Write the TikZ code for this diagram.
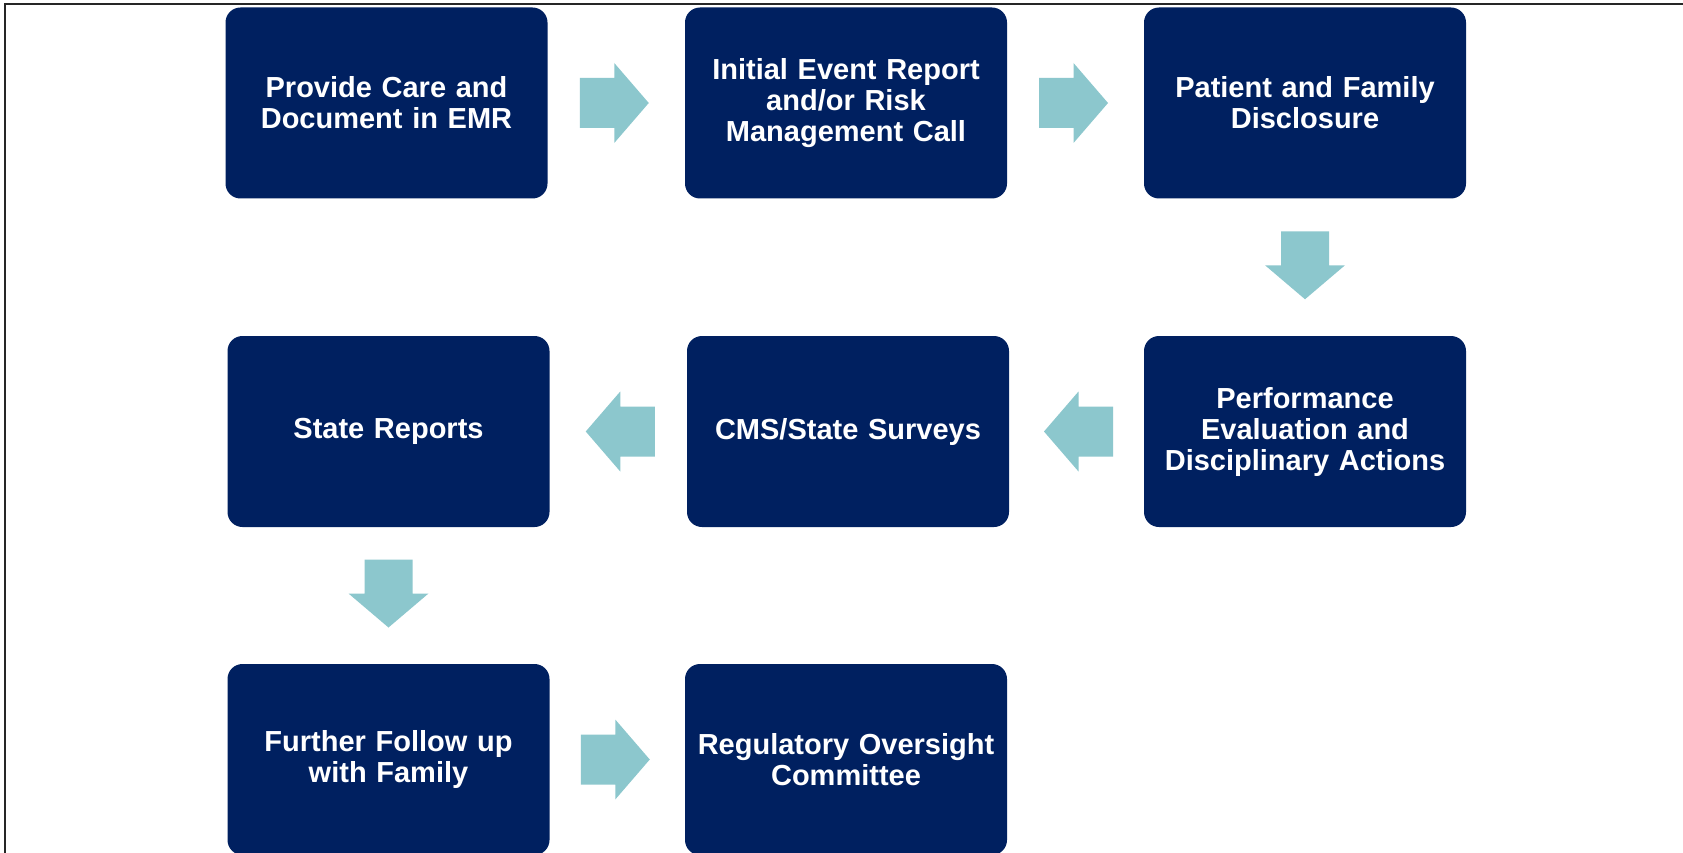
\documentclass[tikz,border=0pt]{standalone}
\usepackage{fontspec}
\setmainfont{Liberation Sans}
\usetikzlibrary{calc}
\definecolor{navy}{RGB}{0,32,96}
\definecolor{arrowc}{RGB}{140,199,205}
\tikzset{
  stepbox/.style={rectangle, rounded corners=15pt, fill=navy, draw=none,
    minimum width=322pt, minimum height=191pt, inner sep=0pt,
    text=white, align=center, text width=310pt,
    font=\fontsize{29}{31}\selectfont\bfseries},
  arrR/.pic={\fill[arrowc] (-34.5,-25) -- (0,-25) -- (0,-40) -- (34.5,0) -- (0,40) -- (0,25) -- (-34.5,25) -- cycle;},
  arrL/.pic={\fill[arrowc] (34.5,-25) -- (0,-25) -- (0,-40) -- (-34.5,0) -- (0,40) -- (0,25) -- (34.5,25) -- cycle;},
  arrD/.pic={\fill[arrowc] (-24,-34) -- (-24,0) -- (-40,0) -- (0,34) -- (40,0) -- (24,0) -- (24,-34) -- cycle;}
}
\begin{document}
\begin{tikzpicture}[x=1pt,y=-1pt]
\useasboundingbox (0,0) rectangle (1683,853);
\fill[white] (0,0) rectangle (1683,853);
\draw[line width=1.5pt, black!85] (5,853) -- (5,4) -- (1683,4);
% row 1
\node[stepbox] (b1) at (386.5,103) {Provide Care and\\Document in EMR};
\node[stepbox] (b2) at (846,103) {Initial Event Report\\and/or Risk\\Management Call};
\node[stepbox] (b3) at (1305,103) {Patient and Family\\Disclosure};
% row 2
\node[stepbox] (b6) at (1305,431.5) {Performance\\Evaluation and\\Disciplinary Actions};
\node[stepbox] (b5) at (848,431.5) {CMS/State Surveys};
\node[stepbox] (b4) at (388.5,431.5) {State Reports};
% row 3
\node[stepbox] (b7) at (388.5,759.5) {Further Follow up\\with Family};
\node[stepbox] (b8) at (846,759.5) {Regulatory Oversight\\Committee};
% arrows
\pic at ($(b1.east)!0.5!(b2.west)+(-2,0)$) {arrR};
\pic at ($(b2.east)!0.5!(b3.west)+(-2,0)$) {arrR};
\pic at ($(b3.south)!0.5!(b6.north)+(0,-2)$) {arrD};
\pic at ($(b6.west)!0.5!(b5.east)+(2,0)$) {arrL};
\pic at ($(b5.west)!0.5!(b4.east)+(2,0)$) {arrL};
\pic at ($(b4.south)!0.5!(b7.north)+(0,-2)$) {arrD};
\pic at ($(b7.east)!0.5!(b8.west)+(-2,0)$) {arrR};
\end{tikzpicture}
\end{document}
